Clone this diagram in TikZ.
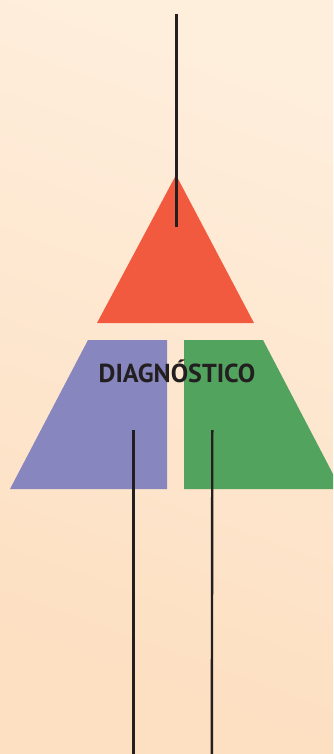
\documentclass[tikz,border=0pt]{standalone}
\usepackage{fontspec}
\setmainfont{PT Sans}
\begin{document}
\begin{tikzpicture}[x=1pt,y=-1pt,
  lead/.style={draw=inkdark,line width=2.4pt},
  label/.style={font=\bfseries\fontsize{26}{30}\selectfont,text=inkdark,inner sep=0pt}]
\definecolor{bgtop}{HTML}{FEEEDC}
\definecolor{bgbot}{HTML}{FDDFC1}
\definecolor{apexred}{HTML}{F15A3E}
\definecolor{leftviolet}{HTML}{8786BF}
\definecolor{rightgreen}{HTML}{52A35E}
\definecolor{inkdark}{HTML}{231F20}
% background
\shade[top color=bgtop,bottom color=bgbot,shading angle=-20] (0,0) rectangle (333,754);
\useasboundingbox (0,0) rectangle (333,754);
% pyramid pieces
\fill[apexred] (176,175) -- (254,323) -- (97,323) -- cycle;
\fill[leftviolet] (88,340) -- (167,340) -- (167,489) -- (10,489) -- cycle;
\fill[rightgreen] (184,340) -- (263,340) -- (333,474) -- (333,489) -- (184,489) -- cycle;
% label
\node[label] (diag) at (177,371) {DIAGNÓSTICO};
% leader lines
\coordinate (t1) at (176.3,14);
\coordinate (t2) at (176.3,227);
\coordinate (l1) at (133.5,430);
\coordinate (l2) at (133.5,754);
\coordinate (r1) at (212.3,430);
\coordinate (r2) at (211.8,754);
\draw[lead] (t1) -- (t2);
\draw[lead] (l1) -- (l2);
\draw[lead] (r1) -- (r2);
\end{tikzpicture}
\end{document}
